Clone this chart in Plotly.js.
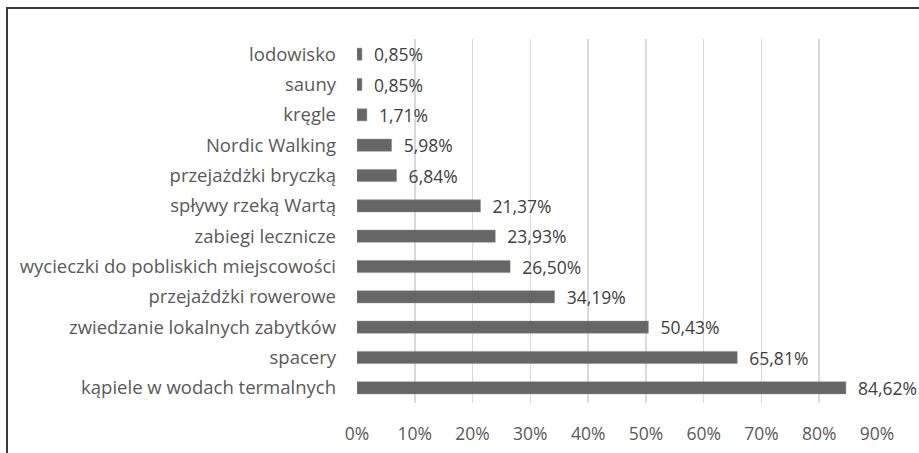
<!DOCTYPE html>
<html>
<head>
<meta charset="utf-8">
<script src="https://cdn.plot.ly/plotly-3.0.1.min.js"></script>
<style>
  body { margin: 0; background: #fff; overflow: hidden; }
  #frame { position: absolute; left: 6px; top: 7px; width: 1000px; height: 600px; border: 2px solid #3a3a3a; }
  #plot { position: absolute; left: 0; top: 0; width: 919px; height: 453px; }
</style>
</head>
<body>
<div id="frame"></div>
<div id="plot"></div>
<script>
// categories from bottom to top
let activities = [
  'kąpiele w wodach termalnych',
  'spacery',
  'zwiedzanie lokalnych zabytków',
  'przejażdżki rowerowe',
  'wycieczki do pobliskich miejscowości',
  'zabiegi lecznicze',
  'spływy rzeką Wartą',
  'przejażdżki bryczką',
  'Nordic Walking',
  'kręgle',
  'sauny',
  'lodowisko'
];
let shares = [84.62, 65.81, 50.43, 34.19, 26.50, 23.93, 21.37, 6.84, 5.98, 1.71, 0.85, 0.85];
let xTicks = [0, 10, 20, 30, 40, 50, 60, 70, 80, 90];

let labels = shares.map(v => '  ' + v.toFixed(2).replace('.', ',') + '%');

let trace = {
  type: 'bar',
  orientation: 'h',
  y: activities,
  x: shares,
  text: labels,
  textposition: 'outside',
  constraintext: 'none',
  cliponaxis: false,
  textfont: { family: 'Open Sans', size: 17.5, color: '#404040' },
  marker: { color: '#666666', line: { color: '#8a8a8a', width: 0.5 } },
  hoverinfo: 'none'
};

let layout = {
  width: 919,
  height: 453,
  margin: { l: 357, r: 42, t: 39, b: 50 },
  paper_bgcolor: 'rgba(0,0,0,0)',
  plot_bgcolor: 'rgba(0,0,0,0)',
  bargap: 0.6,
  showlegend: false,
  font: { family: 'Open Sans', size: 18, color: '#595959' },
  xaxis: {
    range: [0, 90],
    tickvals: xTicks,
    ticktext: xTicks.map(t => t + '%'),
    showgrid: true,
    gridcolor: '#d9d9d9',
    gridwidth: 1.5,
    zeroline: false,
    showline: false,
    ticks: '',
    ticklabelstandoff: 18,
    tickfont: { size: 17.5, color: '#595959' }
  },
  yaxis: {
    type: 'category',
    showgrid: false,
    zeroline: false,
    showline: false,
    ticks: '',
    ticklabelstandoff: 20,
    tickfont: { size: 18.5, color: '#595959' }
  }
};

Plotly.newPlot('plot', [trace], layout, { displayModeBar: false, staticPlot: true });
</script>
</body>
</html>
